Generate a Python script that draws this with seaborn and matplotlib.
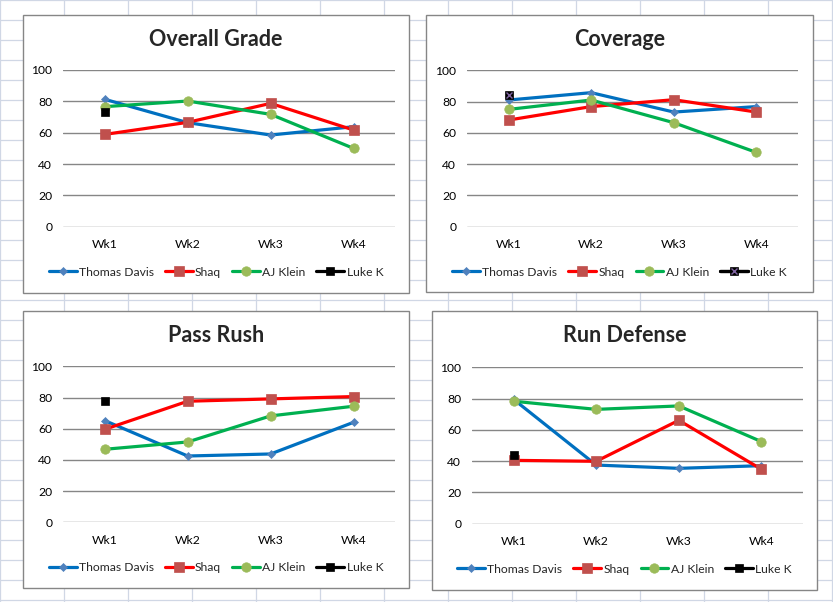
import numpy as np
import pandas as pd
import seaborn as sns
import matplotlib.pyplot as plt
from matplotlib.patches import Rectangle

sns.set_style("white")
plt.rcParams['font.family'] = ['Lato', 'DejaVu Sans']

weeks = ["Wk1", "Wk2", "Wk3", "Wk4"]
players = ["Thomas Davis", "Shaq", "AJ Klein", "Luke K"]
titles = ["Overall Grade", "Coverage", "Pass Rush", "Run Defense"]

nan = np.nan
overall_td = [81.3, 66.4, 58.5, 63.8]
overall_shaq = [58.9, 66.6, 78.7, 61.7]
overall_aj = [76.6, 80.2, 71.7, 50.0]
overall_luke = [73.2, nan, nan, nan]

coverage_td = [81.0, 85.7, 73.3, 76.8]
coverage_shaq = [68.2, 76.8, 81.2, 73.3]
coverage_aj = [75.0, 81.0, 66.5, 47.5]
coverage_luke = [84.2, nan, nan, nan]

passrush_td = [65.2, 42.5, 43.8, 64.1]
passrush_shaq = [59.6, 77.6, 79.1, 80.6]
passrush_aj = [46.8, 51.5, 68.2, 74.4]
passrush_luke = [77.6, nan, nan, nan]

rundef_td = [79.5, 37.5, 35.4, 37.1]
rundef_shaq = [40.5, 39.9, 66.1, 34.8]
rundef_aj = [78.3, 73.1, 75.3, 52.5]
rundef_luke = [44.1, nan, nan, nan]

panels = [
    [overall_td, overall_shaq, overall_aj, overall_luke],
    [coverage_td, coverage_shaq, coverage_aj, coverage_luke],
    [passrush_td, passrush_shaq, passrush_aj, passrush_luke],
    [rundef_td, rundef_shaq, rundef_aj, rundef_luke],
]

# line colour, marker, marker colour, marker size
styles = [
    ("#0070C0", "D", "#4F81BD", 4.2),
    ("#FF0000", "s", "#C0504D", 7.2),
    ("#00B050", "o", "#9BBB59", 6.8),
    ("#000000", "s", "#000000", 5.8),
]

W, H = 833, 602
fig = plt.figure(figsize=(W / 100, H / 100), dpi=100)

# spreadsheet cell grid behind the charts
bg = fig.add_axes([0, 0, 1, 1])
bg.set_xlim(0, W)
bg.set_ylim(H, 0)
bg.axis("off")
for gx in range(0, W, 64):
    bg.axvline(gx, color="#D0D7E5", lw=0.9, zorder=1)
for gy in range(0, H, 20):
    bg.axhline(gy, color="#D0D7E5", lw=0.9, zorder=1)

# chart boxes (px) and plot areas (left, right, top=100, bottom=0)
boxes = [(23, 15, 409, 293), (426, 15, 813, 292), (23, 311, 409, 588), (432, 311, 817, 590)]
areas = [(63.3, 395, 70, 226.7), (467.3, 797.7, 70.3, 226.7),
         (63.3, 395, 366.3, 522.3), (472.3, 802.7, 367.3, 523.7)]

for k in range(4):
    x0, y0, x1, y1 = boxes[k]
    bg.add_patch(Rectangle((x0, y0), x1 - x0, y1 - y0, facecolor="white",
                           edgecolor="#868686", lw=1, zorder=3))
    bg.text((x0 + x1) / 2, y0 + 25, titles[k], ha="center", va="center",
            fontsize=15.5, fontweight="bold", zorder=4)

    l, r, t, b = areas[k]
    ax = fig.add_axes([l / W, 1 - b / H, (r - l) / W, (b - t) / H])
    ax.patch.set_alpha(0)
    for i, series in enumerate(panels[k]):
        lc, mk, mc, ms = styles[i]
        df = pd.DataFrame({"week": weeks, "score": series})
        sns.lineplot(data=df, x="week", y="score", ax=ax, color=lc, lw=2.3,
                     marker=mk, markersize=ms, markerfacecolor=mc,
                     markeredgecolor=mc, markeredgewidth=0.5,
                     label=players[i], errorbar=None, sort=False)
    handles = list(ax.get_lines())
    if k == 1:
        # Luke K marker on Coverage has a purple cross inside the square
        df = pd.DataFrame({"week": weeks, "score": panels[k][3]})
        sns.lineplot(data=df, x="week", y="score", ax=ax, color="#000000",
                     lw=2.3, marker="x", markersize=4.5, markeredgecolor="#8064A2",
                     markeredgewidth=1, label="_nolegend_", errorbar=None)
        handles = [handles[0], handles[1], handles[2], (handles[3], ax.get_lines()[-1])]

    ax.set_xlim(-0.5, 3.5)
    ax.set_ylim(0, 100)
    ax.set_yticks(range(0, 101, 20))
    ax.yaxis.grid(True, color="#868686", lw=1)
    ax.set_axisbelow(True)
    for s in ax.spines.values():
        s.set_visible(False)
    ax.set_xlabel("")
    ax.set_ylabel("")
    ax.tick_params(axis="both", length=0, labelsize=8.7, colors="#000000")
    ax.tick_params(axis="y", pad=8)
    ax.tick_params(axis="x", pad=9)

    cx = ((x0 + x1) / 2 - l) / (r - l)
    ax.legend(handles, players, loc="center", bbox_to_anchor=(cx, -0.29),
              ncol=4, frameon=False, fontsize=8.7, handlelength=2.3,
              handletextpad=0.2, columnspacing=0.9, borderaxespad=0)

fig.savefig("out.png", dpi=100)
